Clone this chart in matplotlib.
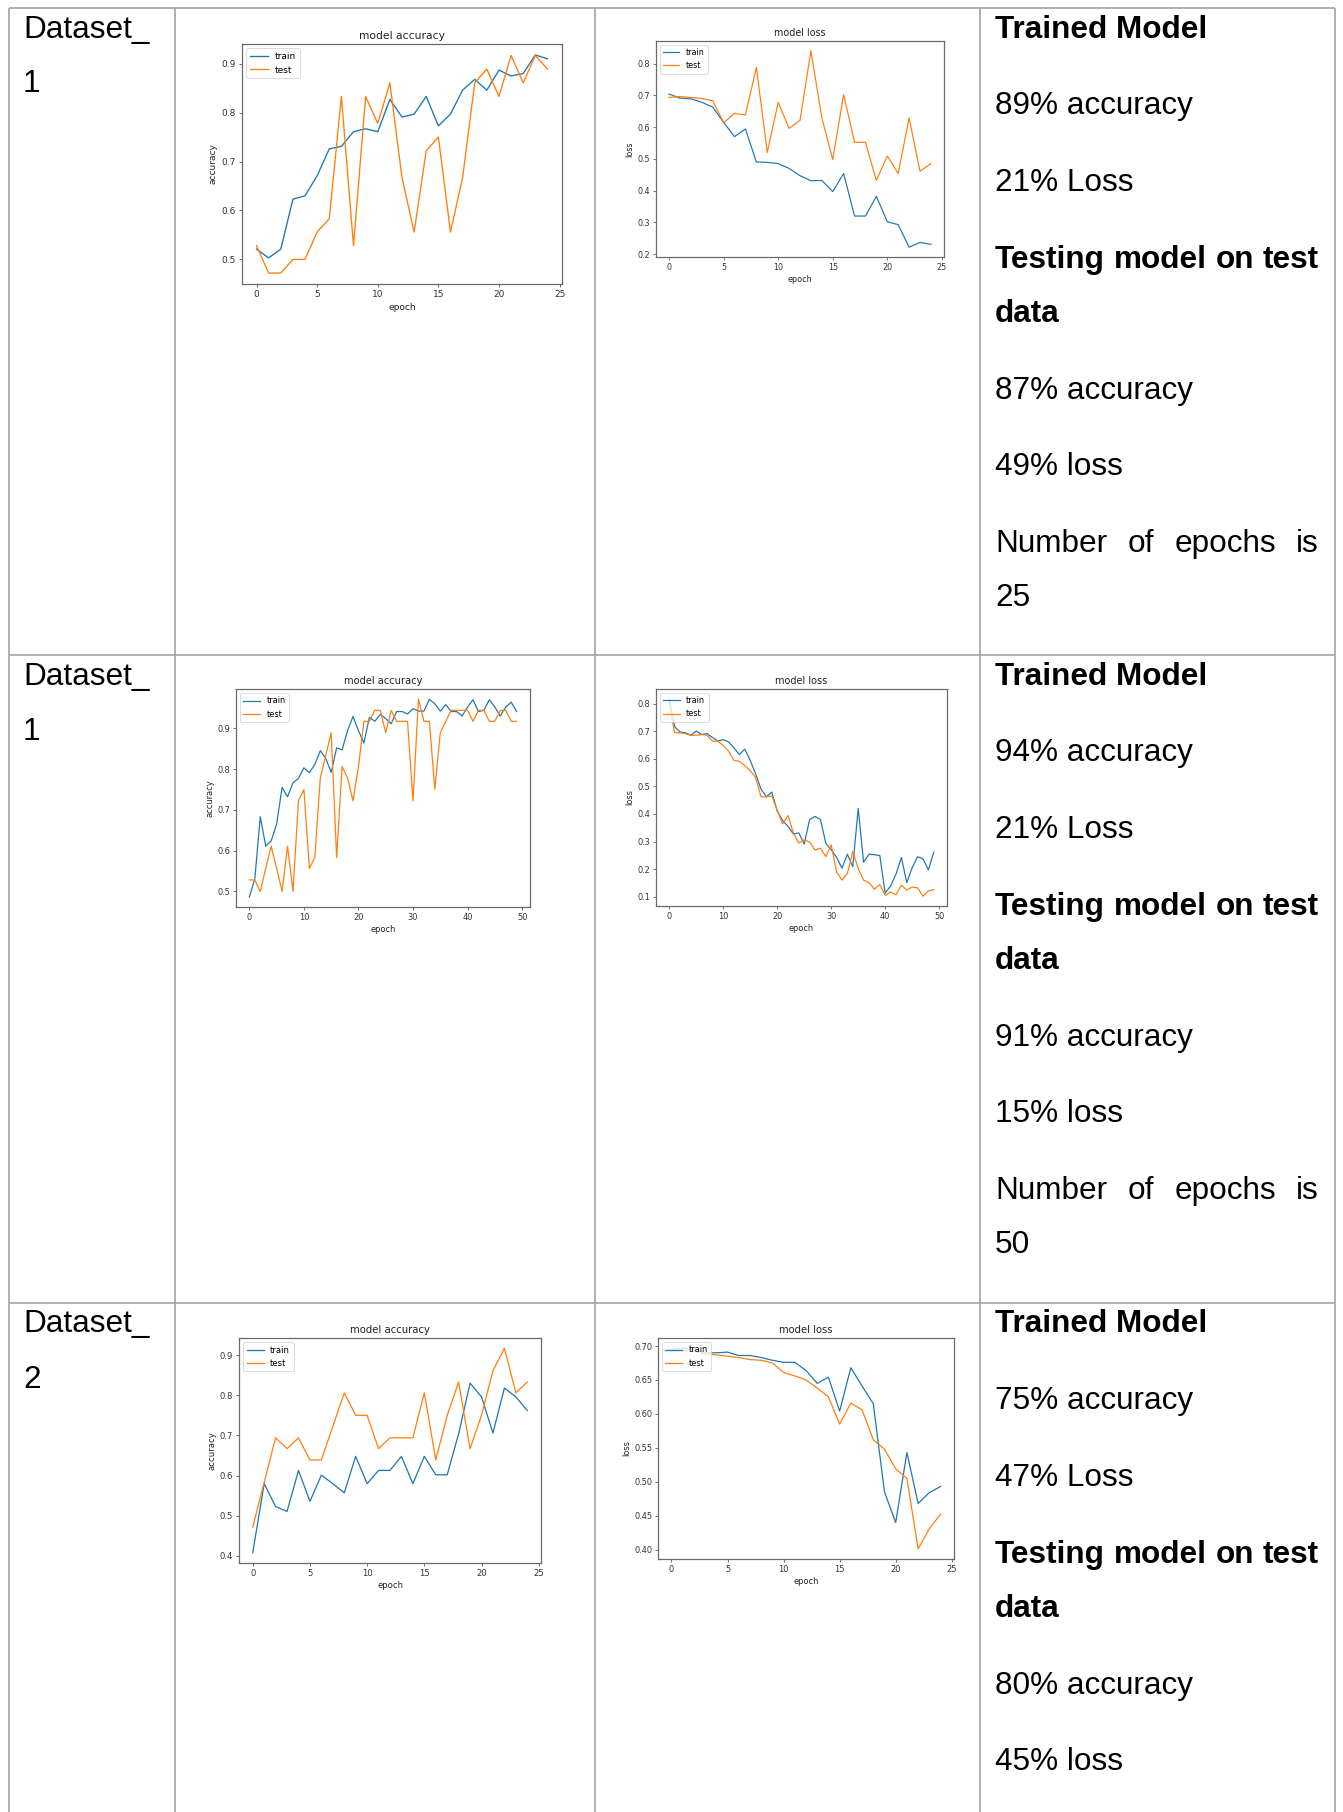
import matplotlib
matplotlib.use("Agg")
import matplotlib.pyplot as plt
from matplotlib.lines import Line2D

W, H, DPI = 1343, 1812, 100

# ---------------- training histories ----------------
acc1_train = [0.521, 0.503, 0.521, 0.623, 0.630, 0.671, 0.726, 0.731, 0.761, 0.767, 0.761, 0.827, 0.791,
              0.797, 0.833, 0.773, 0.797, 0.846, 0.868, 0.846, 0.887, 0.875, 0.880, 0.918, 0.910]
acc1_test = [0.528, 0.472, 0.472, 0.500, 0.500, 0.556, 0.583, 0.833, 0.528, 0.833, 0.778, 0.861, 0.667,
             0.556, 0.722, 0.750, 0.556, 0.667, 0.861, 0.889, 0.833, 0.917, 0.861, 0.917, 0.889]
loss1_train = [0.704, 0.691, 0.689, 0.678, 0.663, 0.615, 0.570, 0.594, 0.490, 0.489, 0.485, 0.470, 0.447,
               0.431, 0.432, 0.397, 0.454, 0.320, 0.320, 0.382, 0.302, 0.293, 0.222, 0.237, 0.231]
loss1_test = [0.693, 0.696, 0.693, 0.690, 0.683, 0.614, 0.643, 0.638, 0.788, 0.520, 0.678, 0.596, 0.621,
              0.840, 0.629, 0.498, 0.702, 0.552, 0.552, 0.432, 0.509, 0.454, 0.629, 0.461, 0.485]

acc2_train = [0.486, 0.531, 0.683, 0.611, 0.624, 0.665, 0.755, 0.732, 0.766, 0.777, 0.803, 0.791, 0.811,
              0.845, 0.826, 0.792, 0.852, 0.847, 0.894, 0.929, 0.894, 0.864, 0.927, 0.917, 0.934, 0.924,
              0.911, 0.941, 0.941, 0.935, 0.948, 0.942, 0.942, 0.971, 0.960, 0.942, 0.958, 0.941, 0.941,
              0.930, 0.952, 0.970, 0.941, 0.944, 0.970, 0.952, 0.930, 0.952, 0.964, 0.941]
acc2_test = [0.528, 0.528, 0.500, 0.556, 0.611, 0.556, 0.500, 0.611, 0.500, 0.722, 0.750, 0.556, 0.583,
             0.778, 0.833, 0.889, 0.583, 0.806, 0.778, 0.722, 0.806, 0.917, 0.917, 0.944, 0.944, 0.889,
             0.944, 0.917, 0.917, 0.917, 0.722, 0.972, 0.917, 0.917, 0.750, 0.889, 0.917, 0.944, 0.944,
             0.944, 0.944, 0.917, 0.944, 0.944, 0.917, 0.917, 0.944, 0.944, 0.917, 0.917]
loss2_train = [0.817, 0.716, 0.697, 0.694, 0.685, 0.700, 0.688, 0.691, 0.677, 0.664, 0.669, 0.661, 0.639,
               0.615, 0.635, 0.594, 0.545, 0.490, 0.462, 0.479, 0.410, 0.376, 0.355, 0.327, 0.331, 0.291,
               0.379, 0.391, 0.380, 0.294, 0.270, 0.243, 0.203, 0.254, 0.209, 0.420, 0.225, 0.254, 0.252,
               0.249, 0.113, 0.139, 0.182, 0.242, 0.151, 0.205, 0.245, 0.237, 0.197, 0.261]
loss2_test = [0.800, 0.694, 0.694, 0.691, 0.685, 0.685, 0.688, 0.685, 0.664, 0.664, 0.648, 0.627, 0.594,
              0.591, 0.575, 0.557, 0.532, 0.462, 0.462, 0.465, 0.413, 0.364, 0.394, 0.331, 0.294, 0.306,
              0.298, 0.269, 0.276, 0.245, 0.288, 0.190, 0.160, 0.184, 0.264, 0.203, 0.160, 0.151, 0.127,
              0.144, 0.105, 0.117, 0.107, 0.142, 0.124, 0.135, 0.132, 0.102, 0.120, 0.126]

acc3_train = [0.408, 0.580, 0.523, 0.511, 0.613, 0.536, 0.601, 0.580, 0.557, 0.648, 0.580, 0.613, 0.613,
              0.648, 0.580, 0.648, 0.602, 0.602, 0.704, 0.830, 0.796, 0.706, 0.818, 0.796, 0.762]
acc3_test = [0.472, 0.583, 0.694, 0.667, 0.694, 0.639, 0.639, 0.722, 0.806, 0.750, 0.750, 0.667, 0.694,
             0.694, 0.694, 0.806, 0.639, 0.750, 0.833, 0.667, 0.750, 0.861, 0.917, 0.806, 0.833]
loss3_train = [0.695, 0.697, 0.694, 0.690, 0.690, 0.691, 0.686, 0.686, 0.683, 0.679, 0.676, 0.676, 0.664,
               0.645, 0.654, 0.604, 0.668, 0.641, 0.615, 0.485, 0.440, 0.543, 0.468, 0.484, 0.493]
loss3_test = [0.693, 0.693, 0.692, 0.688, 0.687, 0.685, 0.683, 0.680, 0.679, 0.675, 0.661, 0.656, 0.650,
              0.638, 0.625, 0.585, 0.616, 0.606, 0.562, 0.548, 0.519, 0.505, 0.401, 0.431, 0.452]

# ---------------- table text ----------------
dataset_names = ["1", "1", "2"]
train_acc_text = ["89% accuracy", "94% accuracy", "75% accuracy"]
train_loss_text = ["21% Loss", "21% Loss", "47% Loss"]
test_acc_text = ["87% accuracy", "91% accuracy", "80% accuracy"]
test_loss_text = ["49% loss", "15% loss", "45% loss"]
epoch_counts = ["25", "50", "50"]

BLUE, ORANGE = "#1f77b4", "#ff7f0e"
RULE = "#a3a3a3"
FONT = "Liberation Sans"
FS = 22.7

fig = plt.figure(figsize=(W / DPI, H / DPI), dpi=DPI)
fig.patch.set_facecolor("white")


def fx(x):
    return x / W


def fy(y):
    return 1 - y / H


def rule(x0, y0, x1, y1):
    fig.add_artist(Line2D([fx(x0), fx(x1)], [fy(y0), fy(y1)], transform=fig.transFigure,
                          color=RULE, lw=1.2, solid_capstyle="butt"))


def history_plot(box, train, test, title, ylabel):
    l, t, r, b = box
    s = (r - l) / 496.0
    ax = fig.add_axes([fx(l), fy(b), (r - l) / W, (b - t) / H])
    ep = list(range(len(train)))
    ax.plot(ep, train, color=BLUE, lw=1.5 * s, label="train")
    ax.plot(ep, test, color=ORANGE, lw=1.5 * s, label="test")
    ax.set_title(title, fontsize=12 * s, pad=6 * s, color="#222222")
    ax.set_xlabel("epoch", fontsize=10 * s, labelpad=4 * s, color="#222222")
    ax.set_ylabel(ylabel, fontsize=10 * s, labelpad=4 * s, color="#222222")
    ax.tick_params(labelsize=10 * s, length=3.5 * s, width=0.8 * s, pad=3.5 * s,
                   colors="#333333")
    for sp in ax.spines.values():
        sp.set_linewidth(0.9)
        sp.set_color("#6a6a6a")
    leg = ax.legend(loc="upper left", fontsize=10 * s)
    leg.get_frame().set_linewidth(0.6)
    return ax


# plot boxes (left, top, right, bottom) in pixels
row_tops = [8, 655, 1303]
plot_boxes = [
    ((242, 44, 562, 284), (656, 41, 944, 257)),
    ((236, 689, 530, 907), (656, 689, 947, 906)),
    ((239, 1338, 541, 1563), (658, 1338, 954, 1559)),
]
histories = [
    (acc1_train, acc1_test, loss1_train, loss1_test),
    (acc2_train, acc2_test, loss2_train, loss2_test),
    (acc3_train, acc3_test, loss3_train, loss3_test),
]

for (abox, lbox), (at, av, lt, lv) in zip(plot_boxes, histories):
    history_plot(abox, at, av, "model accuracy", "accuracy")
    history_plot(lbox, lt, lv, "model loss", "loss")

# table rules
col_x = [9, 175, 595, 980, 1335]
for x in col_x:
    rule(x, 8, x, H)
for y in row_tops:
    rule(9, y, 1335, y)

renderer = fig.canvas.get_renderer()


def put(x, y, s, bold=False):
    return fig.text(fx(x), fy(y), s, fontsize=FS, family=FONT,
                    fontweight="bold" if bold else "normal", va="baseline", ha="left")


def put_justified(x0, x1, y, s, bold=False):
    words = s.split()
    arts = [put(x0, y, w, bold) for w in words]
    widths = [a.get_window_extent(renderer).width for a in arts]
    gap = (x1 - x0 - sum(widths)) / (len(words) - 1)
    x = x0
    for a, w in zip(arts, widths):
        a.set_x(fx(x))
        x += w + gap


TX0, TX1 = 995, 1319
para, line = 76.7, 54.3
for i, top in enumerate(row_tops):
    b0 = top + 29.5
    put(23, b0, "Dataset_")
    put(23, b0 + 55, dataset_names[i])
    y = b0
    put(TX0, y, "Trained Model", bold=True)
    y += para
    put(TX0, y, train_acc_text[i])
    y += para
    put(TX0, y, train_loss_text[i])
    y += para
    put_justified(TX0, TX1, y, "Testing model on test", bold=True)
    y += line
    put(TX0, y, "data", bold=True)
    y += para
    put(TX0, y, test_acc_text[i])
    y += para
    put(TX0, y, test_loss_text[i])
    y += para
    if y < H:
        put_justified(TX0, TX1, y, "Number of epochs is")
        put(TX0, y + line, epoch_counts[i])

fig.savefig("out.png", dpi=DPI)
